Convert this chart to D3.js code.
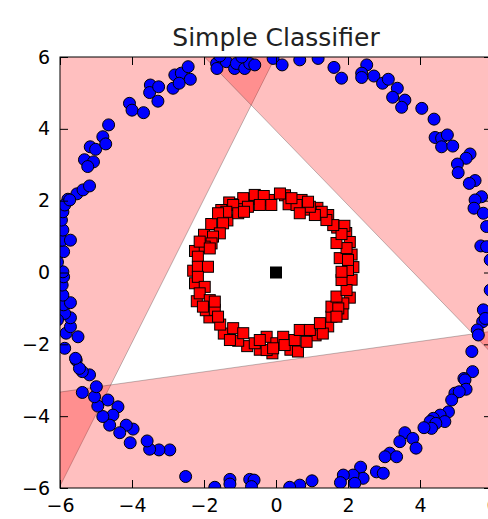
<!DOCTYPE html>
<html lang="en">
<head>
  <meta charset="UTF-8">
  <title>Simple Classifier</title>
  <style>
    body { margin: 0; background: #fff; }
    svg { display: block; font-family: "DejaVu Sans", sans-serif; }
    .tick text { fill: #000; }
    .tick line { stroke: #000; }
  </style>
</head>
<body>
  <svg id="chart" width="488" height="519"></svg>
  <script src="https://d3js.org/d3.v7.min.js"></script>
  <script>
    // outer class (blue circles)
    const outerRing = [
      [-5.78,2.04],[-5.53,2.19],[-5.36,2.30],[-5.18,2.41],[-5.32,3.14],[-5.07,3.08],[-5.23,2.95],
      [-5.16,3.50],[-5.01,3.43],[-4.81,3.78],[-4.73,3.58],[-4.65,4.11],[-4.07,4.71],[-4.00,4.52],
      [-3.68,4.45],[-3.49,5.22],[-3.51,5.01],[-3.26,5.17],[-3.28,4.77],[-2.86,5.13],[-2.81,5.50],
      [-2.63,5.55],[-2.69,5.27],[-2.44,5.73],[-2.38,5.38],[-1.65,5.82],[-1.64,5.68],[-1.38,5.87],
      [-1.15,5.68],[-1.10,5.82],[-0.87,5.68],[-0.73,5.82],[-0.59,5.78],[-1.56,6.03],[-0.95,6.00],
      [-0.08,5.96],[0.17,5.78],[0.66,5.92],[1.17,5.96],[1.61,5.71],[1.82,5.41],[2.52,5.78],
      [2.38,5.55],[2.38,5.43],[2.72,5.47],[2.96,5.27],[3.12,5.38],[3.37,5.13],[3.24,4.88],
      [3.58,4.80],[3.49,4.60],[4.05,4.57],[4.39,4.27],[4.42,3.76],[4.60,3.74],[4.76,3.83],
      [4.60,3.50],[4.91,3.52],[5.39,3.30],[5.28,3.18],[5.04,3.02],[5.06,2.78],[5.53,2.56],
      [5.37,2.48],[5.71,2.11],[5.53,2.02],[5.50,1.79],[5.76,1.65],[5.85,1.28],[5.69,0.74],
      [5.85,0.72],[5.95,0.35],[5.95,-0.49],[5.76,-1.04],[5.74,-1.37],[5.59,-1.60],[5.62,-1.74],
      [5.81,-1.28],[5.44,-2.20],[5.46,-2.76],[5.22,-2.95],[5.25,-2.99],[4.97,-3.36],[5.28,-3.25],
      [5.09,-3.32],[4.88,-3.55],[4.79,-3.88],[4.56,-3.97],[4.69,-4.15],[4.37,-4.06],[4.28,-4.15],
      [4.44,-4.20],[4.32,-4.34],[4.11,-4.32],[3.58,-4.46],[3.44,-4.71],[3.80,-4.62],[3.89,-4.89],
      [3.16,-5.03],[3.03,-5.13],[3.35,-5.13],[2.79,-5.55],[2.98,-5.59],[2.35,-5.42],[2.42,-5.73],
      [2.14,-5.64],[1.87,-5.64],[1.79,-5.85],[2.19,-5.87],[1.00,-5.80],[0.66,-5.92],[0.38,-5.98],
      [-0.73,-5.76],[-0.61,-5.78],[-0.68,-5.96],[-1.28,-5.76],[-1.28,-5.89],[-1.70,-5.98],[-2.51,-5.68],
      [-2.95,-4.94],[-3.25,-4.94],[-3.51,-4.92],[-3.58,-4.69],[-4.05,-4.74],[-3.97,-4.36],[-4.16,-4.25],
      [-4.34,-4.46],[-4.39,-3.74],[-4.53,-3.97],[-4.62,-4.25],[-4.81,-4.01],[-4.67,-3.55],[-4.95,-3.72],
      [-5.04,-3.46],[-5.38,-3.34],[-4.99,-3.18],[-5.18,-2.85],[-5.38,-2.76],[-5.55,-2.44],[-5.46,-2.67],
      [-5.57,-2.39],[-5.87,-2.11],[-5.50,-1.79],[-5.83,-1.69],[-5.71,-1.51],[-5.71,-1.26],[-5.87,-1.14],
      [-5.90,-0.90],[-5.71,-0.84],[-5.92,-0.63],[-5.94,-0.35],[-5.90,-0.12],[-5.92,0.02],[-5.90,0.58],
      [-5.94,0.90],[-5.71,0.90],[-5.92,1.18],[-5.96,1.46],[-5.92,1.69],[-5.87,1.88],[-5.73,2.02],
      [-6.07,0.29],[-6.07,-1.32]
    ];

    // inner class (red squares)
    const innerRing = [
      [-1.30,1.95],[-1.00,1.90],[-0.70,2.05],[-0.20,2.02],[0.25,2.15],[0.35,1.90],[0.80,1.75],
      [1.15,1.80],[1.45,1.60],[1.70,1.25],[1.95,1.10],[2.05,0.85],[2.10,0.50],[2.10,-0.20],
      [2.05,-0.70],[1.85,-1.15],[1.45,-1.50],[1.10,-1.75],[0.40,-2.15],[-0.10,-2.25],[-0.45,-2.15],
      [-0.80,-2.05],[-1.05,-1.90],[-1.45,-1.70],[-1.85,-1.25],[-1.95,-1.05],[-2.25,-0.30],[-2.30,0.05],
      [-2.25,0.60],[-2.00,1.05],[-1.80,1.35],[-1.35,1.45],[-2.20,-0.80],[-1.55,-1.45],[1.30,-1.70],
      [2.15,0.15],[1.90,1.30],
      [-0.91,2.07],[-0.59,2.16],[-0.34,2.13],[-0.45,1.88],[-0.13,1.88],[-0.78,1.83],[-1.19,1.88],
      [-1.05,1.65],[-0.89,1.69],[-1.52,1.74],[-1.38,1.69],[-1.61,1.65],[-1.47,1.37],[-1.56,1.09],
      [-1.75,1.00],[-1.79,0.81],[-1.98,0.72],[-2.12,0.86],[-1.84,0.67],[-2.17,0.44],[-2.17,0.16],
      [-1.89,0.16],[-2.17,-0.12],[-1.98,-0.40],[-2.12,-0.58],[-1.84,-0.77],[-2.03,-0.95],[-1.70,-1.04],
      [-1.70,-0.81],[-1.61,-1.23],[-1.19,-1.55],[-1.28,-1.88],[-0.91,-1.69],[-0.59,-1.97],[-0.26,-1.79],
      [-0.26,-2.16],[0.01,-1.97],[-0.08,-2.11],[0.20,-1.79],[0.24,-2.02],[0.52,-1.88],[0.61,-2.20],
      [0.66,-1.60],[0.85,-1.93],[0.94,-1.60],[1.22,-1.41],[1.54,-1.23],[1.54,-0.95],[1.87,-0.86],
      [1.68,-0.67],[1.96,-0.49],[1.82,-0.21],[2.00,0.07],[1.82,0.02],[1.77,0.40],[2.00,0.35],
      [1.96,0.68],[1.68,0.82],[1.82,1.07],[1.59,1.32],[1.40,1.46],[1.27,1.69],[1.08,1.60],
      [0.94,1.83],[0.71,2.02],[0.57,1.88],[0.66,1.65],[0.89,1.97],[0.43,2.07],[0.11,2.20],
      [1.73,-1.00],[1.68,-1.23],[-0.45,-1.88]
    ];

    const centerPoint = [[0, 0]];

    // corners of the unshaded triangle
    const boundaryVertices = [[-0.69, 4.66], [-4.59, -3.13], [5.47, -1.71]];

    const xTicks = [-6, -4, -2, 0, 2, 4, 6];
    const yTicks = [-6, -4, -2, 0, 2, 4, 6];

    const margin = { top: 57, left: 60 };
    const plotW = 432, plotH = 431;

    const svg = d3.select("#chart");
    const x = d3.scaleLinear().domain([-6, 6]).range([margin.left, margin.left + plotW]);
    const y = d3.scaleLinear().domain([-6, 6]).range([margin.top + plotH, margin.top]);

    svg.append("defs").append("clipPath").attr("id", "plot-clip")
      .append("rect")
        .attr("x", margin.left).attr("y", margin.top)
        .attr("width", plotW).attr("height", plotH);

    const plot = svg.append("g").attr("clip-path", "url(#plot-clip)");

    // half planes outside each triangle edge
    const cx = d3.mean(boundaryVertices, d => d[0]);
    const cy = d3.mean(boundaryVertices, d => d[1]);
    const halfPlanes = boundaryVertices.map((a, i) => {
      const b = boundaryVertices[(i + 1) % 3];
      let dx = b[0] - a[0], dy = b[1] - a[1];
      const len = Math.hypot(dx, dy);
      dx /= len; dy /= len;
      let nx = -dy, ny = dx;
      if ((cx - a[0]) * nx + (cy - a[1]) * ny > 0) { nx = -nx; ny = -ny; }
      const far = 60;
      const p1 = [a[0] - far * dx, a[1] - far * dy];
      const p2 = [b[0] + far * dx, b[1] + far * dy];
      return [p1, p2, [p2[0] + far * nx, p2[1] + far * ny], [p1[0] + far * nx, p1[1] + far * ny]];
    });

    plot.selectAll(".half")
      .data(halfPlanes)
      .join("path")
        .attr("class", "half")
        .attr("d", d => "M" + d.map(p => [x(p[0]), y(p[1])].join(",")).join("L") + "Z")
        .attr("fill", "#ff0000")
        .attr("fill-opacity", 0.25)
        .attr("stroke", "#000")
        .attr("stroke-opacity", 0.25)
        .attr("stroke-width", 1);

    plot.selectAll(".outer")
      .data(outerRing)
      .join("circle")
        .attr("class", "outer")
        .attr("cx", d => x(d[0]))
        .attr("cy", d => y(d[1]))
        .attr("r", 6)
        .attr("fill", "#0000ff")
        .attr("stroke", "#000")
        .attr("stroke-width", 1);

    const sq = 11;
    plot.selectAll(".inner")
      .data(innerRing)
      .join("rect")
        .attr("class", "inner")
        .attr("x", d => x(d[0]) - sq / 2)
        .attr("y", d => y(d[1]) - sq / 2)
        .attr("width", sq).attr("height", sq)
        .attr("fill", "#ff0000")
        .attr("stroke", "#000")
        .attr("stroke-width", 1);

    const cs = 12;
    plot.selectAll(".center")
      .data(centerPoint)
      .join("rect")
        .attr("class", "center")
        .attr("x", d => x(d[0]) - cs / 2)
        .attr("y", d => y(d[1]) - cs / 2)
        .attr("width", cs).attr("height", cs)
        .attr("fill", "#000");

    // axes, ticks pointing inward on all four sides
    const tickFont = 19;
    const axisBottomG = svg.append("g")
      .attr("transform", `translate(0,${margin.top + plotH})`)
      .call(d3.axisBottom(x).tickValues(xTicks).tickSize(-8).tickPadding(11));
    const axisLeftG = svg.append("g")
      .attr("transform", `translate(${margin.left},0)`)
      .call(d3.axisLeft(y).tickValues(yTicks).tickSize(-8).tickPadding(10));
    const axisTopG = svg.append("g")
      .attr("transform", `translate(0,${margin.top})`)
      .call(d3.axisTop(x).tickValues(xTicks).tickSize(-8).tickFormat(""));
    const axisRightG = svg.append("g")
      .attr("transform", `translate(${margin.left + plotW},0)`)
      .call(d3.axisRight(y).tickValues(yTicks).tickSize(-8).tickFormat(""));

    [axisBottomG, axisLeftG, axisTopG, axisRightG].forEach(g => {
      g.select(".domain").remove();
      g.attr("font-family", null).attr("font-size", null);
      g.selectAll("text").style("font-size", tickFont + "px");
    });

    svg.append("rect")
      .attr("x", margin.left).attr("y", margin.top)
      .attr("width", plotW).attr("height", plotH)
      .attr("fill", "none")
      .attr("stroke", "#000")
      .attr("stroke-width", 1);

    svg.append("text")
      .attr("x", margin.left + plotW / 2)
      .attr("y", 46)
      .attr("text-anchor", "middle")
      .style("font-size", "25px")
      .attr("fill", "#222")
      .text("Simple Classifier");
  </script>
</body>
</html>
